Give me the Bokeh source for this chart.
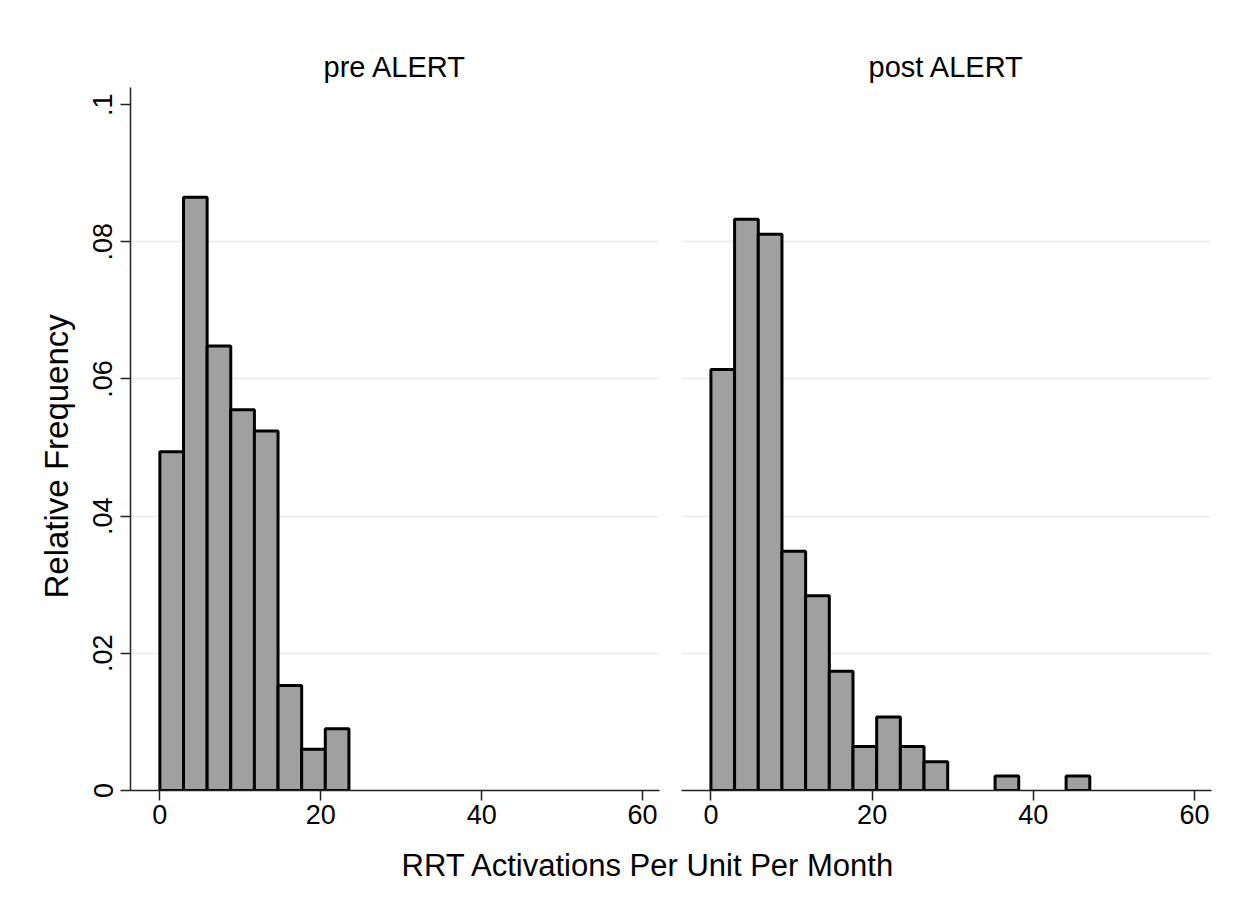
from bokeh.plotting import figure
from bokeh.layouts import column, row
from bokeh.models import Range1d, FixedTicker, ColumnDataSource, Title
from bokeh.core.properties import value
from bokeh.embed import file_html
from bokeh.resources import INLINE

# ---------------- data ----------------
panel_titles = ["pre ALERT", "post ALERT"]
x_title = "RRT Activations Per Unit Per Month"
y_title = "Relative Frequency"

bin_width = 2.9375
pre_bin_left = [0.0, 2.9375, 5.875, 8.8125, 11.75, 14.6875, 17.625, 20.5625]
pre_density = [0.0494, 0.0865, 0.0648, 0.0555, 0.0524, 0.0153, 0.0060, 0.0090]

post_bin_left = [0.0, 2.9375, 5.875, 8.8125, 11.75, 14.6875, 17.625, 20.5625,
                 23.5, 26.4375, 29.375, 32.3125, 35.25, 38.1875, 41.125, 44.0625]
post_density = [0.0614, 0.0833, 0.0811, 0.0349, 0.0284, 0.0174, 0.0064, 0.0107,
                0.0064, 0.0042, 0.0, 0.0, 0.0021, 0.0, 0.0, 0.0021]

x_ticks = [0, 20, 40, 60]
y_ticks = [0, 0.02, 0.04, 0.06, 0.08, 0.1]
y_tick_labels = ["0", ".02", ".04", ".06", ".08", ".1"]
y_grid = [0.02, 0.04, 0.06, 0.08]

# ---------------- style ----------------
FONT = "Liberation Sans"
BAR_FILL = "#a0a0a0"
AXIS_COLOR = "#222222"
GRID_COLOR = "#ebebeb"


def make_panel(title, lefts, dens, width, border_left, border_right, show_y):
    p = figure(width=width, height=840,
               x_range=Range1d(-3.65, 62.1), y_range=Range1d(0, 0.1025),
               output_backend="svg", toolbar_location=None,
               min_border_left=border_left, min_border_right=border_right,
               min_border_top=87, min_border_bottom=50)
    p.outline_line_color = None
    p.background_fill_color = "white"
    p.border_fill_color = "white"

    p.title.text = title
    p.title.align = "center"
    p.title.text_font = FONT
    p.title.text_font_size = "29px"
    p.title.text_font_style = "normal"
    p.title.text_color = "black"
    p.title.standoff = 10

    keep = [i for i, d in enumerate(dens) if d > 0]
    src = ColumnDataSource(dict(
        left=[lefts[i] for i in keep],
        right=[lefts[i] + bin_width for i in keep],
        top=[dens[i] for i in keep],
        bottom=[0.0 for i in keep],
    ))
    p.quad(left="left", right="right", top="top", bottom="bottom", source=src,
           fill_color=BAR_FILL, line_color="black", line_width=3)

    # grid
    p.xgrid.visible = False
    p.ygrid.ticker = FixedTicker(ticks=y_grid)
    p.ygrid.grid_line_color = GRID_COLOR
    p.ygrid.grid_line_width = 1.5

    # x axis
    xa = p.xaxis[0]
    xa.ticker = FixedTicker(ticks=x_ticks)
    xa.major_tick_out = 10
    xa.major_tick_in = 0
    xa.minor_tick_line_color = None
    xa.axis_line_color = AXIS_COLOR
    xa.axis_line_width = 1.5
    xa.major_tick_line_color = AXIS_COLOR
    xa.major_tick_line_width = 1.5
    xa.major_label_text_font = FONT
    xa.major_label_text_font_size = "27px"
    xa.major_label_text_color = "black"
    xa.major_label_standoff = 4

    ya = p.yaxis[0]
    if show_y:
        ya.ticker = FixedTicker(ticks=y_ticks)
        ya.major_label_overrides = {v: s for v, s in zip(y_ticks, y_tick_labels)}
        ya.major_label_orientation = "vertical"
        ya.major_tick_out = 10
        ya.major_tick_in = 0
        ya.minor_tick_line_color = None
        ya.axis_line_color = AXIS_COLOR
        ya.axis_line_width = 1.5
        ya.major_tick_line_color = AXIS_COLOR
        ya.major_tick_line_width = 1.5
        ya.major_label_text_font = FONT
        ya.major_label_text_font_size = "27px"
        ya.major_label_text_color = "black"
        ya.major_label_standoff = 8
        ylab = Title(text=y_title, align="left", offset=192,
                     text_font=FONT, text_font_size="33px",
                     text_font_style="normal", text_color="black", standoff=32)
        p.add_layout(ylab, "left")
    else:
        ya.visible = False
    return p


left = make_panel(panel_titles[0], pre_bin_left, pre_density, 670, 130, 11, True)
right = make_panel(panel_titles[1], post_bin_left, post_density, 580, 11, 39, False)

bottom = figure(width=1250, height=67, x_range=Range1d(0, 1250), y_range=Range1d(0, 67),
                output_backend="svg", toolbar_location=None, min_border=0)
bottom.outline_line_color = None
bottom.xaxis.visible = False
bottom.yaxis.visible = False
bottom.grid.visible = False
bottom.text(x=[648], y=[42], text=[x_title], text_font=value(FONT),
            text_font_size="31px", text_align="center", text_baseline="alphabetic",
            text_color="black")

layout = column(row(left, right), bottom)

open("out.html", "w").write(file_html(layout, INLINE))
